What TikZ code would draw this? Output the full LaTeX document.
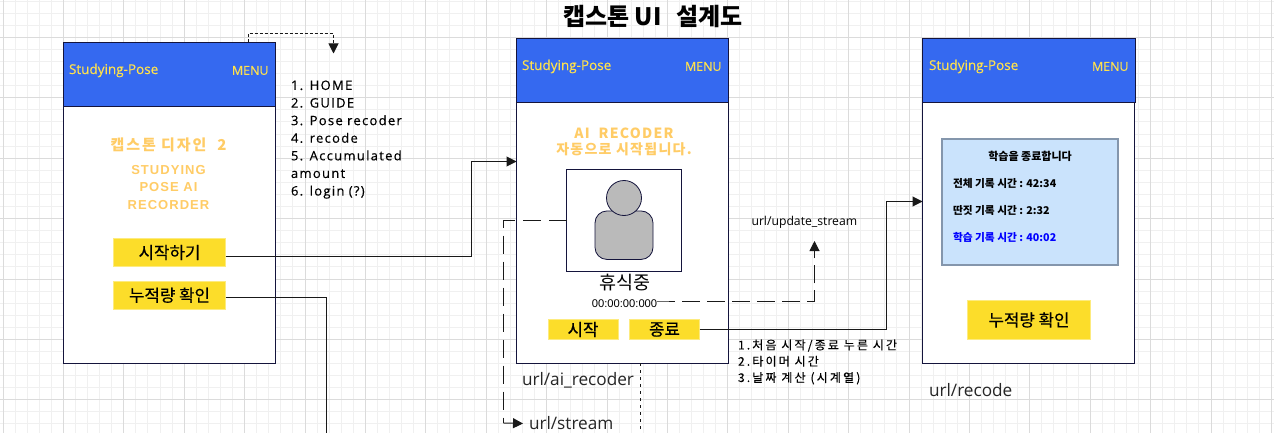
\documentclass[tikz,border=0pt]{standalone}
\usepackage{fontspec}
\usepackage{tikz}
\usetikzlibrary{arrows.meta}
\setmainfont{Noto Sans CJK KR}
\newfontfamily\latinfont{Open Sans}
\newfontfamily\arialfont{Liberation Sans}
\newcommand{\spaced}[1]{\addfontfeature{LetterSpace=#1}}
\newcommand{\thick}{\addfontfeature{FakeBold=0.35}}
\definecolor{navyline}{HTML}{14143C}
\definecolor{headblue}{HTML}{3569F0}
\definecolor{btnyellow}{HTML}{FCDD2A}
\definecolor{softorange}{HTML}{FFCC66}
\definecolor{menuyellow}{HTML}{FFE14D}
\definecolor{infoblue}{HTML}{CAE3FC}
\definecolor{infoedge}{HTML}{8496AC}
\tikzset{
  every node/.style={outer sep=0pt},
  screenbox/.style={draw=navyline, fill=white, line width=1pt, anchor=north west, inner sep=0pt},
  headbar/.style={draw=navyline, fill=headblue, line width=1pt, anchor=north west, inner sep=0pt},
  yellowbtn/.style={fill=btnyellow, draw=btnyellow!60!white, line width=0.6pt, text=black, inner sep=0pt, anchor=north west, align=center, font=\thick\fontsize{16.8}{18}\selectfont},
  apptitle/.style={text=menuyellow, inner sep=0pt, font=\latinfont\thick\fontsize{13.5}{14}\selectfont},
  menutext/.style={text=menuyellow, inner sep=0pt, font=\latinfont\thick\fontsize{12.4}{14}\selectfont},
  orangetext/.style={text=softorange, inner sep=0pt, align=center},
  plainlabel/.style={text=black, inner sep=0pt, anchor=west, align=left},
  infotext/.style={plainlabel, font=\bfseries\fontsize{10.7}{12}\selectfont},
  urllabel/.style={text=black!85, inner sep=0pt, anchor=west, font=\latinfont\fontsize{17.2}{20}\selectfont},
  wire/.style={draw=black!90, line width=1pt},
  bigtip/.style={-{Triangle[length=10pt,width=10pt]}}
}
\begin{document}
\begin{tikzpicture}[x=1pt,y=-1pt]
\useasboundingbox (0,0) rectangle (1274,433);
\fill[white] (0,0) rectangle (1274,433);
% grid
\foreach \i in {0,...,105} {
  \draw[black!6, line width=0.8pt] ({2.9+12.08*\i},0) -- ({2.9+12.08*\i},433);
}
\foreach \i in {0,...,35} {
  \draw[black!6, line width=0.8pt] (0,{1.06+12.08*\i}) -- (1274,{1.06+12.08*\i});
}
\foreach \i in {0,...,21} {
  \draw[black!14, line width=0.8pt] ({2.9+60.4*\i},0) -- ({2.9+60.4*\i},433);
}
\foreach \i in {0,...,7} {
  \draw[black!14, line width=0.8pt] (0,{37.3+60.4*\i}) -- (1274,{37.3+60.4*\i});
}

\node[inner sep=0pt, font=\bfseries\fontsize{24}{26}\selectfont] (title) at (653,16.5) {캡스톤 UI\ \ \,설계도};

% first screen
\node[screenbox, minimum width=212pt, minimum height=320.5pt] (home) at (63.5,42.5) {};
\node[headbar, minimum width=212pt, minimum height=64pt] (homehead) at (63.5,42.5) {};
\node[apptitle, anchor=west] (homename) at (69,70.5) {Studying-Pose};
\node[menutext, anchor=east] (homemenu) at (268.5,70.5) {MENU};
\node[orangetext, font=\bfseries\spaced{13}\fontsize{15}{17}\selectfont] (design) at (168.5,145) {캡스톤 디자인\ \ 2};
\node[orangetext, font=\arialfont\bfseries\spaced{8}\fontsize{13}{17.5}\selectfont] (study) at (168.5,187.5) {STUDYING\\POSE AI\\RECORDER};
\node[yellowbtn, minimum width=112pt, minimum height=28pt] (startbtn) at (113.5,238.5) {시작하기};
\node[yellowbtn, minimum width=112pt, minimum height=28.5pt] (amountbtn) at (113.5,281) {누적량 확인};
\node[plainlabel, anchor=north west, font=\latinfont\thick\spaced{10}\fontsize{13}{17.6}\selectfont, text width=125pt] (menulist) at (291,80.5) {1. HOME\\2. GUIDE\\3. Pose recoder\\4. recode\\5. Accumulated\\amount\\6. login (?)};
\coordinate (menutip) at (333.5,53.5);

% second screen
\node[screenbox, minimum width=212pt, minimum height=324.5pt] (recoder) at (516.5,38.5) {};
\node[headbar, minimum width=212pt, minimum height=64pt] (recoderhead) at (516.5,38.5) {};
\node[apptitle, anchor=west] (recodername) at (522,66.5) {Studying-Pose};
\node[menutext, anchor=east] (recodermenu) at (721.5,66.5) {MENU};
\node[orangetext, font=\bfseries\spaced{9}\fontsize{14}{16}\selectfont] (autotext) at (624,141.5) {AI\ \ RECODER\hspace{5pt}\\자동으로 시작됩니다.};
\node[screenbox, minimum width=115pt, minimum height=102pt] (camera) at (566.5,169.5) {};
\node[draw=navyline, fill=black!27, rounded corners=12pt, minimum width=58pt, minimum height=48.5pt, inner sep=0pt, line width=0.8pt] (body) at (624,235.2) {};
\node[circle, draw=navyline, fill=black!27, minimum size=35pt, inner sep=0pt, line width=0.8pt] (head) at (624,198) {};
\node[inner sep=0pt, font=\fontsize{18.5}{20}\selectfont] (resting) at (625,283) {휴식중};
\node[inner sep=0pt, font=\arialfont\fontsize{11.2}{12}\selectfont] (timer) at (624.5,304) {00:00:00:000};
\node[yellowbtn, minimum width=70pt, minimum height=20pt] (playbtn) at (548,319.5) {시작};
\node[yellowbtn, minimum width=70pt, minimum height=20pt] (stopbtn) at (629.5,319.5) {종료};
\node[urllabel] (recoderurl) at (522,380) {url/ai\_recoder};
\node[urllabel] (streamurl) at (529,423.5) {url/stream};
\node[plainlabel, font=\latinfont\fontsize{12.2}{13}\selectfont] (updateurl) at (751.5,222) {url/update\_stream};
\coordinate (updatetip) at (814.5,241);
\node[plainlabel, anchor=north west, font=\thick\spaced{18}\fontsize{12}{16.3}\selectfont] (timenotes) at (738,339.5) {1.처음 시작/종료 누른 시간\\2.타이머 시간\\3.날짜 계산 (시계열)};

% third screen
\node[screenbox, minimum width=212pt, minimum height=324.5pt] (finish) at (922.5,38.5) {};
\node[headbar, minimum width=212.5pt, minimum height=64pt] (finishhead) at (922.5,38.5) {};
\node[apptitle, anchor=west] (finishname) at (929,66.5) {Studying-Pose};
\node[menutext, anchor=east] (finishmenu) at (1128.5,66.5) {MENU};
\node[draw=infoedge, fill=infoblue, line width=2.4pt, minimum width=176pt, minimum height=126pt, inner sep=0pt, anchor=north west] (infobox) at (942,139) {};
\node[inner sep=0pt, font=\bfseries\fontsize{11}{12}\selectfont] (infotitle) at (1030,156) {학습을 종료합니다};
\node[infotext] (totaltime) at (953,183.5) {전체 기록 시간 : 42:34};
\node[infotext] (distracted) at (953,210.5) {딴짓 기록 시간 : 2:32};
\node[infotext, text=blue] (studytime) at (953,237.5) {학습 기록 시간 : 40:02};
\node[yellowbtn, minimum width=123pt, minimum height=39pt] (totalbtn) at (967.5,300.5) {누적량 확인};
\node[urllabel] (finishurl) at (929,390) {url/recode};

% connectors
\draw[wire, dash pattern=on 3pt off 2pt, bigtip] (homehead.north -| 248,0) -- ++(0,-8.5) -| (menutip);
\draw[wire, bigtip] (startbtn.east |- 0,256) -| (471,161.5) -- (recoder.west |- 0,161.5);
\draw[wire] (amountbtn.east |- 0,297.5) -| (326.5,433);
\draw[wire, dash pattern=on 18pt off 8pt] (camera.west |- 0,220.5) -| (503.5,423);
\draw[wire, bigtip] (503.5,423) -- (streamurl.west -| 523,0);
\draw[wire, dash pattern=on 3pt off 4pt] (recoder.south -| 640.5,0) -- (640.5,433);
\draw[wire, dash pattern=on 18pt off 7pt, bigtip] (timer.east |- 0,301) -- ++(6,0) -| (updatetip);
\draw[wire, bigtip] (stopbtn.east) -| (886.5,201.5) -- (finish.west |- 0,201.5);
\end{tikzpicture}
\end{document}
